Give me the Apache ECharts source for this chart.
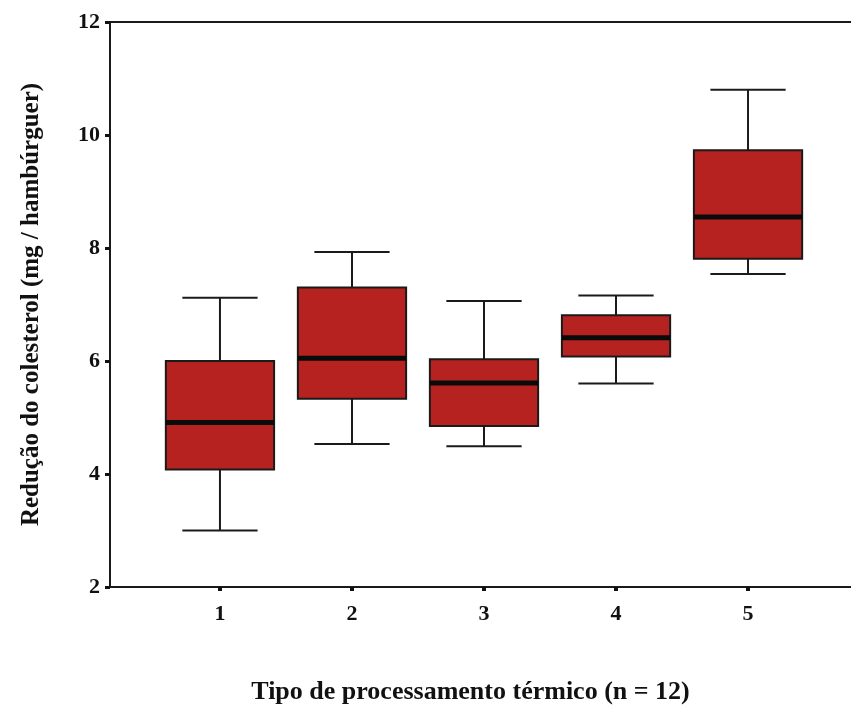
<!DOCTYPE html>
<html>
<head>
<meta charset="utf-8">
<script src="https://cdn.jsdelivr.net/npm/echarts@6/dist/echarts.min.js"></script>
<style>
html,body{margin:0;padding:0;background:#fff;}
#chart{width:851px;height:706px;}
</style>
</head>
<body>
<div id="chart"></div>
<script>
// Data
var categories = [1, 2, 3, 4, 5];
var whiskerLow = [3.00, 4.53, 4.49, 5.60, 7.54];
var q1 = [4.08, 5.33, 4.85, 6.08, 7.81];
var medians = [4.91, 6.05, 5.61, 6.41, 8.55];
var q3 = [6.00, 7.30, 6.03, 6.81, 9.73];
var whiskerHigh = [7.12, 7.93, 7.06, 7.16, 10.80];
var yTicks = [2, 4, 6, 8, 10, 12];

var boxData = categories.map(function (c, i) {
  return [c, whiskerLow[i], q1[i], medians[i], q3[i], whiskerHigh[i]];
});

var FONT = '"Liberation Serif", "Times New Roman", serif';
var chart = echarts.init(document.getElementById('chart'));

function renderBox(params, api) {
  var x = api.value(0);
  var pMin = api.coord([x, api.value(1)]);
  var pQ1 = api.coord([x, api.value(2)]);
  var pMed = api.coord([x, api.value(3)]);
  var pQ3 = api.coord([x, api.value(4)]);
  var pMax = api.coord([x, api.value(5)]);
  var unit = api.size([1, 0])[0];
  var boxHalf = unit * 0.41;
  var capHalf = unit * 0.285;
  var cx = pMed[0];
  var lineStyle = { stroke: '#1a1a1a', lineWidth: 2 };
  return {
    type: 'group',
    children: [
      { type: 'line', shape: { x1: cx, y1: pMax[1], x2: cx, y2: pQ3[1] }, style: lineStyle },
      { type: 'line', shape: { x1: cx, y1: pQ1[1], x2: cx, y2: pMin[1] }, style: lineStyle },
      { type: 'line', shape: { x1: cx - capHalf, y1: pMax[1], x2: cx + capHalf, y2: pMax[1] }, style: lineStyle },
      { type: 'line', shape: { x1: cx - capHalf, y1: pMin[1], x2: cx + capHalf, y2: pMin[1] }, style: lineStyle },
      { type: 'rect', shape: { x: cx - boxHalf, y: pQ3[1], width: boxHalf * 2, height: pQ1[1] - pQ3[1] },
        style: { fill: '#B5221F', stroke: '#1a1a1a', lineWidth: 2 } },
      { type: 'line', shape: { x1: cx - boxHalf, y1: pMed[1], x2: cx + boxHalf, y2: pMed[1] },
        style: { stroke: '#0a0a0a', lineWidth: 5 } }
    ]
  };
}

chart.setOption({
  backgroundColor: '#ffffff',
  animation: false,
  grid: { left: 110, right: 0, top: 22, bottom: 119, containLabel: false, outerBoundsMode: 'none' },
  xAxis: [{
    type: 'value',
    min: 0.167,
    max: 5.78,
    splitLine: { show: false },
    axisLine: { show: true, lineStyle: { color: '#1a1a1a', width: 2 } },
    axisTick: { show: true, customValues: categories, length: 4, lineStyle: { color: '#111', width: 4 } },
    axisLabel: { show: true, customValues: categories, margin: 16, color: '#111',
      fontFamily: FONT, fontWeight: 'bold', fontSize: 22,
      formatter: function (v) { return String(v); } },
    name: 'Tipo de processamento térmico (n = 12)',
    nameLocation: 'middle',
    nameGap: 92,
    nameTextStyle: { color: '#111', fontFamily: FONT, fontWeight: 'bold', fontSize: 26, padding: [0, 20, 0, 0] }
  }, {
    type: 'value',
    position: 'top',
    min: 0.167,
    max: 5.78,
    splitLine: { show: false },
    axisLine: { show: true, lineStyle: { color: '#1a1a1a', width: 2 } },
    axisTick: { show: false },
    axisLabel: { show: false }
  }],
  yAxis: {
    type: 'value',
    min: 2,
    max: 12,
    interval: 2,
    splitLine: { show: false },
    axisLine: { show: true, lineStyle: { color: '#1a1a1a', width: 2 } },
    axisTick: { show: true, length: 5, lineStyle: { color: '#111', width: 3 } },
    axisLabel: { color: '#111', fontFamily: FONT, fontWeight: 'bold', fontSize: 22, margin: 10 },
    name: 'Redução do colesterol (mg / hambúrguer)',
    nameLocation: 'middle',
    nameGap: 66,
    nameTextStyle: { color: '#111', fontFamily: FONT, fontWeight: 'bold', fontSize: 25 }
  },
  series: [{
    type: 'custom',
    xAxisIndex: 0,
    renderItem: renderBox,
    encode: { x: 0, y: [1, 2, 3, 4, 5] },
    data: boxData,
    clip: false
  }]
});
</script>
</body>
</html>
